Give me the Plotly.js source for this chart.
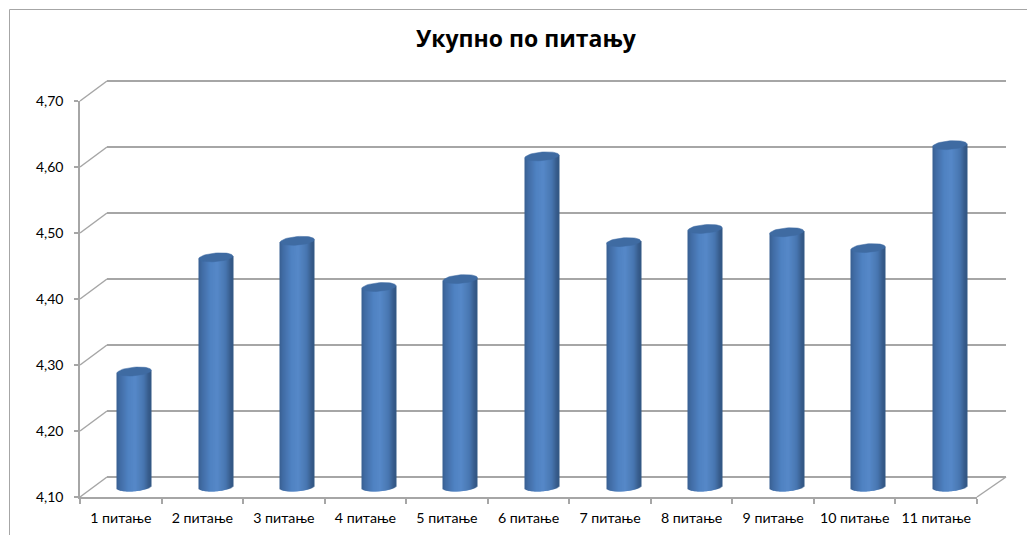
<!DOCTYPE html>
<html><head><meta charset="utf-8">
<script src="https://cdn.plot.ly/plotly-3.0.1.min.js"></script>
<style>html,body{margin:0;padding:0;background:#fff}#c{width:1027px;height:535px}</style>
</head><body><div id="c"></div>
<script>
const categories = ["1 питање","2 питање","3 питање","4 питање","5 питање","6 питање","7 питање","8 питање","9 питање","10 питање","11 питање"];
const values = [4.275,4.448,4.473,4.403,4.415,4.601,4.471,4.491,4.486,4.462,4.618];
const yTicks = [4.1,4.2,4.3,4.4,4.5,4.6,4.7];
const yTickLabels = ["4,10","4,20","4,30","4,40","4,50","4,60","4,70"];
const titleText = "Укупно по питању";

const W=1027,H=535;
const px=x=>x/W, py=y=>1-y/H;
const FX0=80,FX1=977,Y0=497,Y70=101,TOP=70,DX=27,DY=20;
const pxPerUnit=(Y0-Y70)/0.6;
const base=4.1;
const vToPx=v=>Y0-(v-base)*pxPerUnit;
const rangeFor=shift=>[base-shift/pxPerUnit, base-shift/pxPerUnit+(Y0-TOP)/pxPerUnit];
const gridColor="#a6a6a6";
const font="'Open Sans', 'Noto Sans', sans-serif";
const labelFont="Lato, 'Noto Sans', sans-serif";

const traces=[];
traces.push({type:'scatter',mode:'none',x:[0,1],y:yTicks.slice(0,2),xaxis:'x2',yaxis:'y2',hoverinfo:'skip',showlegend:false});
traces.push({type:'bar',x:categories,y:values.map(v=>0),base:base,xaxis:'x',yaxis:'y',marker:{color:'rgba(0,0,0,0)'},hoverinfo:'skip',showlegend:false});

const catW=(FX1-FX0)/categories.length;
const barPx=34, b=4.3, tilt=1.3;
const stops=[[0,[56,94,144]],[0.10,[64,108,164]],[0.35,[80,130,194]],[0.55,[86,136,200]],[0.8,[72,118,176]],[0.93,[56,94,142]],[1,[50,86,130]]];
function colorAt(t){for(let i=1;i<stops.length;i++){if(t<=stops[i][0]){const a=stops[i-1],c=stops[i],f=(t-a[0])/(c[0]-a[0]);
  return 'rgb('+a[1].map((v,k)=>Math.round(v+(c[1][k]-v)*f)).join(',')+')';}}return 'rgb(50,86,130)';}
const xIdx=categories.map((_,i)=>i);
for(let s=0;s<barPx;s++){
  const t=(s+0.5)/barPx,u=2*t-1;
  const dip=b*Math.sqrt(1-u*u);
  const bottom=base+(tilt*u-dip)/pxPerUnit;
  traces.push({type:'bar',x:xIdx,y:values.map(v=>v+tilt*u/pxPerUnit-bottom),base:bottom,
    width:1/catW,offset:(s-barPx/2)/catW,xaxis:'x3',yaxis:'y3',marker:{color:colorAt(t),line:{width:0}},hoverinfo:'skip',showlegend:false});
}
values.forEach((v,i)=>{
  const xs=[],ys=[];
  for(let k=0;k<=48;k++){const a=k/48*2*Math.PI,c=Math.cos(a),sn=Math.sin(a);
    xs.push(i+c*(barPx/2)/catW); ys.push(v+(b*sn+tilt*c)/pxPerUnit);}
  traces.push({type:'scatter',mode:'lines',x:xs,y:ys,fill:'toself',fillcolor:'#3f6ba2',line:{color:'#3f6ba2',width:0.5},xaxis:'x3',yaxis:'y3',hoverinfo:'skip',showlegend:false});
});

const shapes=[];
const ln={color:gridColor,width:1.5};
yTicks.forEach(v=>{
  shapes.push({type:'line',xref:'paper',yref:'paper',x0:px(FX0),x1:px(FX0+DX),y0:py(vToPx(v)),y1:py(vToPx(v)-DY),line:ln,layer:'below'});
});
shapes.push({type:'line',xref:'paper',yref:'paper',x0:px(FX1),x1:px(FX1+DX+2),y0:py(Y0),y1:py(Y0-DY),line:ln,layer:'below'});
shapes.push({type:'line',xref:'paper',yref:'paper',x0:px(9.5),x1:px(9.5),y0:py(9.5),y1:0,line:{color:'#a6a6a6',width:1}});
shapes.push({type:'line',xref:'paper',yref:'paper',x0:px(9.5),x1:1,y0:py(9.5),y1:py(9.5),line:{color:'#a6a6a6',width:1}});

const dom=[py(Y0),py(TOP)];
const layout={width:W,height:H,margin:{l:0,r:0,t:0,b:0,pad:0},paper_bgcolor:'#fff',plot_bgcolor:'rgba(0,0,0,0)',showlegend:false,barmode:'overlay',
  font:{family:labelFont,color:'#000',size:13},
  title:{text:'<b>'+titleText+'</b>',x:px(526),y:py(39),xref:'paper',yref:'paper',xanchor:'center',yanchor:'middle',font:{family:font,size:23,color:'#000'}},
  xaxis:{domain:[px(FX0),px(FX1)],anchor:'y',type:'category',categoryorder:'array',categoryarray:categories,range:[-0.5,10.5],tickson:'boundaries',ticks:'outside',ticklen:5,tickcolor:gridColor,tickwidth:1.5,showline:true,linecolor:gridColor,linewidth:1.5,showgrid:false,zeroline:false,tickfont:{family:labelFont,size:14.2,color:'#000'},ticklabelstandoff:7,fixedrange:true,tickangle:0},
  yaxis:{domain:[py(Y0),py(Y70)],anchor:'x',range:[base,4.7],tickmode:'array',tickvals:yTicks,ticktext:yTickLabels,ticks:'outside',ticklen:4,tickcolor:gridColor,tickwidth:1.5,showline:true,linecolor:gridColor,linewidth:1.5,showgrid:false,zeroline:false,tickfont:{family:labelFont,size:14,color:'#000'},ticklabelstandoff:8,fixedrange:true},
  xaxis2:{domain:[px(FX0+DX),px(FX1+DX+2)],anchor:'y2',visible:false,range:[0,1],fixedrange:true},
  yaxis2:{domain:dom,anchor:'x2',range:rangeFor(DY),tickmode:'array',tickvals:yTicks,showticklabels:false,ticks:'',showline:false,showgrid:true,gridcolor:gridColor,gridwidth:1.5,zeroline:false,fixedrange:true},
  xaxis3:{domain:[px(FX0+DX/2),px(FX1+DX/2)],anchor:'y3',visible:false,range:[-0.5,10.5],fixedrange:true},
  yaxis3:{domain:dom,anchor:'x3',visible:false,range:rangeFor(DY/2),fixedrange:true},
  shapes:shapes};
Plotly.newPlot('c',traces,layout,{displayModeBar:false});
</script></body></html>
